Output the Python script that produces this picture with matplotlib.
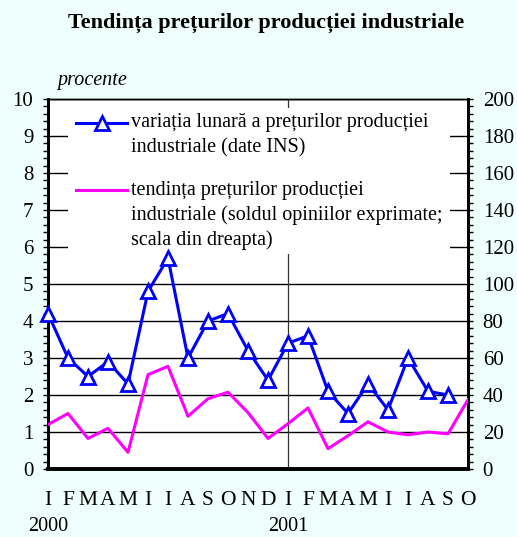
import numpy as np
import matplotlib.pyplot as plt
from matplotlib.ticker import MultipleLocator
from matplotlib.patches import Rectangle
from matplotlib.lines import Line2D

plt.rcParams['font.family'] = ['Liberation Serif', 'DejaVu Serif']

months = ['I', 'F', 'M', 'A', 'M', 'I', 'I', 'A', 'S', 'O', 'N', 'D',
          'I', 'F', 'M', 'A', 'M', 'I', 'I', 'A', 'S', 'O']
years = ['2000', '2001']

# variatia lunara (procente), ian 2000 - sep 2001
var_lunara = [4.2, 3.0, 2.5, 2.9, 2.3, 4.8, 5.7, 3.0, 4.0, 4.2, 3.2, 2.4,
              3.4, 3.6, 2.1, 1.5, 2.3, 1.6, 3.0, 2.1, 2.0]
# tendinta (sold, scala din dreapta), ian 2000 - oct 2001
tendinta = [24, 30, 16.5, 22, 9, 51, 55.5, 28.5, 38, 41.5, 30.5, 16.5,
            24.5, 33, 11, 18, 25.5, 20, 18.5, 20, 19, 37.5]

leg_lines1 = ['variația lunară a prețurilor producției', 'industriale (date INS)']
leg_lines2 = ['tendința prețurilor producției',
              'industriale (soldul opiniilor exprimate;', 'scala din dreapta)']

W, H = 517, 537
bg = '#eefffc'
fig = plt.figure(figsize=(W/100, H/100), dpi=100, facecolor=bg)
ax = fig.add_axes([48/W, 1-469/H, 420/W, 370/H])
ax.set_facecolor('white')

def fx(px):
    return px / W

def fy(py):
    return 1 - py / H

x1 = np.arange(len(var_lunara))
x2 = np.arange(len(tendinta))

ax.set_xlim(0, 21)
ax.set_ylim(0, 10)
ax.yaxis.set_major_locator(MultipleLocator(1))
ax.yaxis.set_minor_locator(MultipleLocator(0.2))
ax.grid(axis='y', color='black', lw=1)
ax.axvline(12, color='#333333', lw=0.9)
ax.set_xticks([])
ax.tick_params(axis='y', which='both', direction='out', length=3.6, width=1,
               labelsize=15, pad=7)

ax2 = ax.twinx()
ax2.set_ylim(0, 200)
ax2.yaxis.set_major_locator(MultipleLocator(20))
ax2.yaxis.set_minor_locator(MultipleLocator(4))
ax2.tick_params(axis='y', which='both', direction='out', length=3.6, width=1,
                labelsize=15, pad=7)

# white legend box hiding the grid behind it
ax2.add_patch(Rectangle((fx(68), fy(254)), fx(450) - fx(68), fy(108) - fy(254),
                        transform=fig.transFigure, facecolor='white',
                        edgecolor='none', zorder=2.5))

ax2.plot(x2, tendinta, color='#ff00ff', lw=2.2, zorder=3)
ax2.plot(x1, np.array(var_lunara) * 20, color='#0000ff', lw=2.2, marker='^',
         ms=10, mfc='white', mec='#0000ff', mew=2, zorder=4, clip_on=False)

# legend drawn by hand: handle sits on the first text line
ax2.add_line(Line2D([fx(76), fx(127)], [fy(123), fy(123)], transform=fig.transFigure,
                    color='#0000ff', lw=2.2, zorder=5))
ax2.add_line(Line2D([fx(101.5)], [fy(123)], transform=fig.transFigure, marker='^',
                    ms=10, mfc='white', mec='#0000ff', mew=2, zorder=6))
ax2.add_line(Line2D([fx(76), fx(127)], [fy(190), fy(190)], transform=fig.transFigure,
                    color='#ff00ff', lw=2.2, zorder=5))
for k, t in enumerate(leg_lines1):
    fig.text(fx(131), fy(123 + 25 * k), t, fontsize=14.5, va='center', ha='left')
for k, t in enumerate(leg_lines2):
    fig.text(fx(131), fy(190 + 25 * k), t, fontsize=14.5, va='center', ha='left')

for a in (ax, ax2):
    for s in ('left', 'right'):
        a.spines[s].set_linewidth(2)
    a.spines['bottom'].set_linewidth(2.6)
    a.spines['top'].set_linewidth(1)

for i, m in enumerate(months):
    ax.text(i, -0.84, m, ha='center', va='center', fontsize=15.5)
ax.text(0, -1.56, years[0], ha='center', va='center', fontsize=14.5)
ax.text(12, -1.56, years[1], ha='center', va='center', fontsize=14.5)

fig.text(fx(57), fy(81), 'procente', style='italic', fontsize=14.5,
         va='center', ha='left')
fig.text(fx(266), fy(23), 'Tendința prețurilor producției industriale',
         fontweight='bold', fontsize=16, ha='center', va='center')

fig.savefig('out.png', dpi=100, facecolor=bg)
